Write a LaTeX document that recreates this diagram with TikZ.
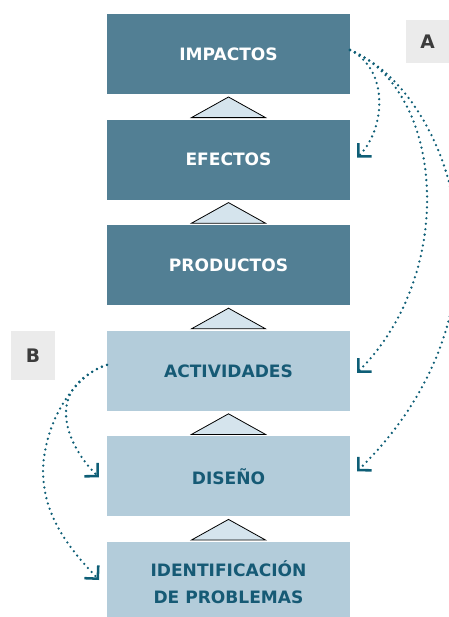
\documentclass[tikz,border=0pt]{standalone}
\usepackage{fontspec}
\setmainfont{DejaVu Sans}
\usetikzlibrary{positioning,arrows.meta,calc}

\definecolor{darkbox}{RGB}{82,127,148}
\definecolor{lightbox}{RGB}{179,204,218}
\definecolor{boxtext}{RGB}{22,90,117}
\definecolor{trifill}{RGB}{213,228,237}
\definecolor{linkcol}{RGB}{14,94,118}
\definecolor{taggray}{RGB}{235,235,235}
\definecolor{tagtext}{RGB}{60,60,60}

\tikzset{
	stage/.style={minimum width=182.25pt, minimum height=60pt, inner sep=0pt, outer sep=0pt, align=center, font=\bfseries\fontsize{12.8}{20}\selectfont},
	upper/.style={stage, fill=darkbox, text=white},
	lower/.style={stage, fill=lightbox, text=boxtext},
	link/.style={draw=linkcol, line width=1.9pt, line cap=round, dash pattern=on 0pt off 4.1pt, -{Straight Barb[angle=90:10pt, line width=1.9pt]}},
	tag/.style={fill=taggray, text=tagtext, inner sep=0pt, font=\bfseries\fontsize{14}{14}\selectfont},
	uptri/.style={draw=black, fill=trifill, line width=0.6pt}
}

\begin{document}
\begin{tikzpicture}[x=0.75pt, y=-0.75pt, node distance=19.2pt]
	\clip (0,0) rectangle (449,617);

	\node[upper] (impactos) at (228.5,54) {IMPACTOS};
	\node[upper, below=of impactos] (efectos) {EFECTOS};
	\node[upper, below=of efectos] (productos) {PRODUCTOS};
	\node[lower, below=of productos] (actividades) {ACTIVIDADES};
	\node[lower, below=of actividades] (diseno) {DISEÑO};
	\node[lower, below=of diseno] (identificacion) {IDENTIFICACIÓN\\DE PROBLEMAS};

	\foreach \above/\below in {impactos/efectos, efectos/productos, productos/actividades, actividades/diseno, diseno/identificacion}
		\draw[uptri] ($(\below.north)+(-37,-2)$) -- ($(\above.south)+(0,3)$) -- ($(\below.north)+(37,-2)$) -- cycle;

	\node[tag, minimum width=32.25pt, minimum height=32.25pt] (tagA) at (427.5,41.5) {A};
	\node[tag, minimum width=33pt, minimum height=36.75pt] (tagB) at (33,355.5) {B};

	\draw[link] ($(impactos.east)+(0,-4)$) .. controls (390,70) and (385,130) .. ($(efectos.east)+(7,-2)$);
	\draw[link] ($(impactos.east)+(0,-4)$) .. controls (445,90) and (457,273) .. ($(actividades.east)+(7,2)$);
	\draw[link] ($(impactos.east)+(0,-4)$) .. controls (410,75) and (458,160) .. (458,250) .. controls (458,320) and (430,400) .. ($(diseno.east)+(7,-5)$);

	\draw[link] ($(actividades.west)+(0,-6)$) .. controls (40,390) and (69,448) .. ($(diseno.west)+(-8,1)$);
	\draw[link] ($(actividades.west)+(0,-6)$) .. controls (80,372) and (45,415) .. (43,470) .. controls (43,520) and (74,553) .. ($(identificacion.west)+(-8,-2)$);
\end{tikzpicture}
\end{document}
